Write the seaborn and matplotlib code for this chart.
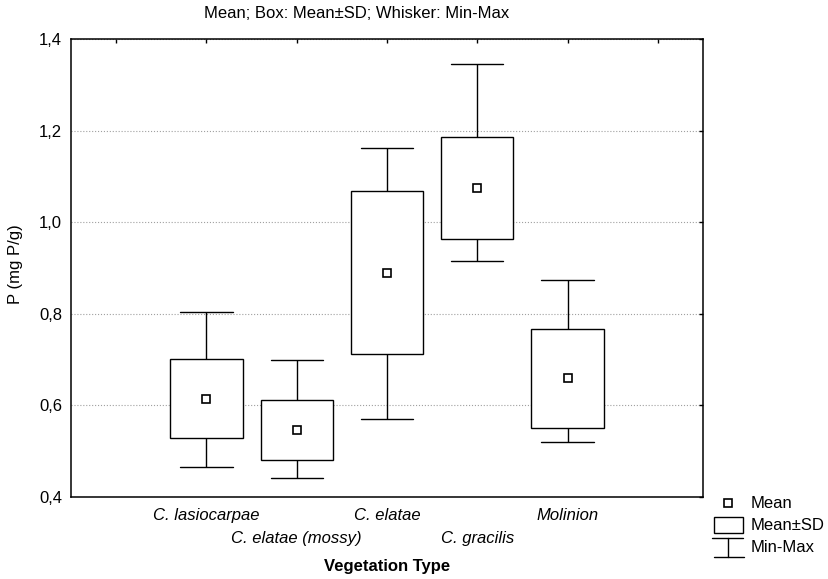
import numpy as np
import pandas as pd
import matplotlib
matplotlib.use("Agg")
import matplotlib.pyplot as plt
import seaborn as sns
from matplotlib.patches import Rectangle

# values
categories = ["C. lasiocarpae", "C. elatae (mossy)", "C. elatae", "C. gracilis", "Molinion"]
means = [0.615, 0.546, 0.890, 1.075, 0.659]
sds = [0.086, 0.065, 0.178, 0.112, 0.108]
mins = [0.465, 0.442, 0.570, 0.915, 0.519]
maxs = [0.804, 0.700, 1.162, 1.346, 0.874]
yticks = [0.4, 0.6, 0.8, 1.0, 1.2, 1.4]

sns.set_theme(style="white")
plt.rcParams["font.family"] = ["Liberation Sans", "DejaVu Sans"]
plt.rcParams["font.size"] = 12
for key in ["text.color", "axes.labelcolor", "xtick.color", "ytick.color"]:
    plt.rcParams[key] = "black"

# boxplot needs samples: 7 points per group so quartiles = mean±SD, whiskers = min/max
rows = []
for cat, m, s, lo, hi in zip(categories, means, sds, mins, maxs):
    for v in [lo, m - s, m - s, m, m + s, m + s, hi]:
        rows.append({"type": cat, "P": v})
df = pd.DataFrame(rows)

# empty slots on both sides, like the original
order = ["_left"] + categories + ["_right"]

fig = plt.figure(figsize=(8.29, 5.79), dpi=100)
ax = fig.add_axes([71 / 829, 1 - 497 / 579, 632 / 829, 458 / 579])

sns.boxplot(data=df, x="type", y="P", order=order, whis=(0, 100), width=0.8,
            color="white", linecolor="black", linewidth=1.0, showfliers=False,
            medianprops={"visible": False}, ax=ax)

# shorten the whisker caps
for line in ax.lines:
    xd = np.asarray(line.get_xdata(), dtype=float)
    yd = np.asarray(line.get_ydata(), dtype=float)
    if line.get_visible() and len(xd) == 2 and yd[0] == yd[1]:
        c = xd.mean()
        line.set_xdata([c - 0.29, c + 0.29])

sns.pointplot(x=categories, y=means, order=order, color="black", linestyle="none",
              marker="s", markersize=6, markerfacecolor="white", markeredgewidth=1.2,
              errorbar=None, ax=ax, zorder=5)

ax.set_xlim(-0.5, 6.5)
ax.set_ylim(0.4, 1.4)

# staggered category labels: first row on major ticks, second row on minor ticks
row1 = [0, 1, 3, 5, 6]
row2 = [2, 4]
ax.set_xticks(row1)
ax.set_xticklabels(["", categories[0], categories[2], categories[4], ""],
                   fontstyle="italic", fontsize=12)
ax.set_xticks(row2, minor=True)
ax.set_xticklabels([categories[1], categories[3]], minor=True,
                   fontstyle="italic", fontsize=12)

ax.set_yticks(yticks)
ax.set_yticklabels([f"{v:.1f}".replace(".", ",") for v in yticks], fontsize=12)
ax.tick_params(which="both", direction="in", length=3, width=1, top=True, right=True,
               color="black", labelcolor="black")
ax.tick_params(axis="y", pad=6.5)
ax.tick_params(axis="x", which="major", pad=8)
ax.tick_params(axis="x", which="minor", pad=24.5)
ax.yaxis.grid(True, linestyle=":", color="#a0a0a0", linewidth=0.8)
ax.set_axisbelow(True)
ax.set_xlabel("")
ax.set_ylabel("")
for sp in ax.spines.values():
    sp.set_color("black")
    sp.set_linewidth(1.1)
    sp.set_visible(True)

fig.text(357 / 829, 1 - 13 / 579, "Mean; Box: Mean±SD; Whisker: Min-Max",
         ha="center", va="center", fontsize=12)
fig.text(387 / 829, 1 - 567 / 579, "Vegetation Type", ha="center", va="center",
         fontsize=12, fontweight="bold")
fig.text(16 / 829, 1 - 264 / 579, "P (mg P/g)", ha="center", va="center",
         rotation=90, fontsize=12)

# legend drawn by hand in a small axes (pixel units)
legax = fig.add_axes([710 / 829, 1 - 562 / 579, 119 / 829, 64 / 579])
legax.set_xlim(0, 119)
legax.set_ylim(64, 0)
legax.axis("off")
legax.plot([18], [5], marker="s", ms=6, mfc="white", mec="black", mew=1.2, ls="none")
legax.add_patch(Rectangle((4, 19), 29, 16, fill=False, ec="black", lw=1.0))
legax.plot([2, 33], [40, 40], color="black", lw=1.0)
legax.plot([18, 18], [40, 59], color="black", lw=1.0)
legax.plot([4, 34], [59, 59], color="black", lw=1.0)
legax.text(41, 5, "Mean", va="center", fontsize=12)
legax.text(41, 27, "Mean±SD", va="center", fontsize=12)
legax.text(41, 50, "Min-Max", va="center", fontsize=12)

fig.savefig("out.png", dpi=100)
